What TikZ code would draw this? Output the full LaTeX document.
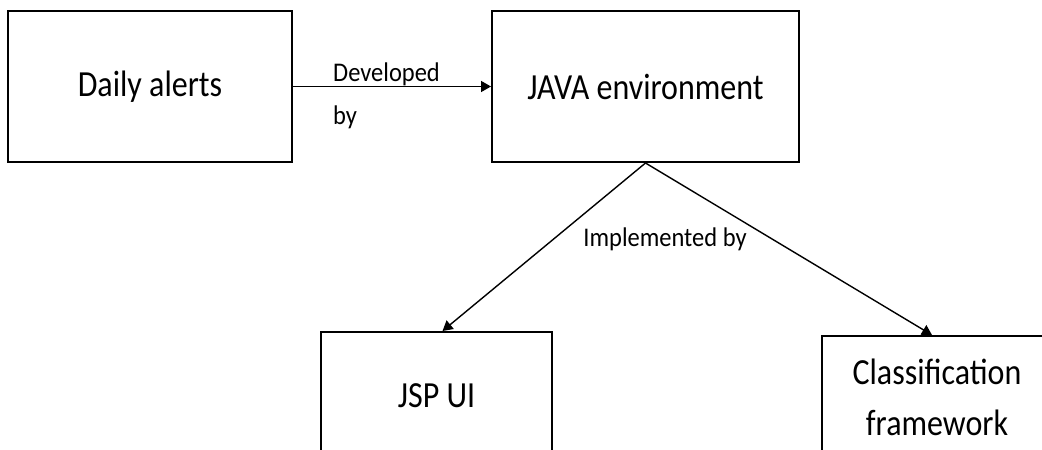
\documentclass[tikz,border=0pt]{standalone}
\usepackage{fontspec}
\usepackage{graphicx}
\setmainfont{Carlito}
\usetikzlibrary{arrows.meta}
% text set slightly taller than its natural shape
\newcommand\tallt[1]{\scalebox{1}[1.15]{#1}}
\newcommand\talll[1]{\scalebox{1}[1.1]{#1}}
\begin{document}
\begin{tikzpicture}[x=1pt,y=-1pt,
  box/.style={draw=black, line width=2pt, fill=white, minimum width=#1, inner sep=0pt, align=center,
    font=\fontsize{32}{51}\selectfont},
  link/.style={draw=black, line width=1.4pt, -{Triangle[length=10pt,width=11pt]}},
  lbl/.style={inner sep=0pt, font=\fontsize{24.5}{43}\selectfont}]
  % canvas
  \useasboundingbox (0,0) rectangle (1042,450);
  \clip (0,0) rectangle (1042,450);
  \fill[white] (0,0) rectangle (1042,450);

  % boxes
  \node[box=284pt, minimum height=151pt] (alerts) at (150,86.5) {\tallt{Daily alerts}};
  \node[box=307pt, minimum height=151pt] (java) at (645.5,86.5) {\tallt{JAVA environment}};
  \node[box=231pt, minimum height=128pt] (jsp) at (436.5,396) {\tallt{JSP UI}};
  \node[box=230pt, minimum height=122pt] (cls) at (937,397) {\tallt{Classification}\\\tallt{framework}};

  % connectors
  \draw[link] (alerts.east) -- (java.west);
  \draw[link] (java.south) -- ([xshift=6pt]jsp.north);
  \draw[link] (java.south) -- ([xshift=-5pt]cls.north);

  % labels
  \node[lbl, anchor=north west, align=left] (dev) at (333,63) {\talll{Developed}\\\talll{by}};
  \node[lbl, anchor=center] (impl) at (665,239) {\talll{Implemented by}};
\end{tikzpicture}
\end{document}
